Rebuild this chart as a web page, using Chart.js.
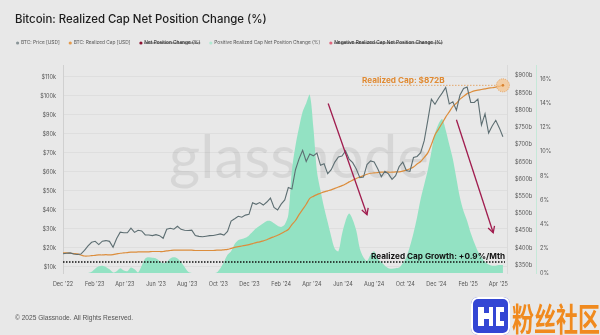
<!DOCTYPE html>
<html lang="en">
<head>
<meta charset="UTF-8">
<title>Bitcoin: Realized Cap Net Position Change (%)</title>
<script src="https://cdn.jsdelivr.net/npm/chart.js"></script>
<style>
    body {
        margin: 0;
        background: #e8e8e8;
    }

    #wrap {
        position: relative;
        width: 600px;
        height: 335px;
        overflow: hidden;
    }

    #chart {
        position: absolute;
        left: 0;
        top: 0;
    }

    .badge-logo {
        position: absolute;
        left: 471px;
        top: 297px;
        width: 39px;
        height: 38px;
        background: #3446d4;
        border-radius: 7px;
        box-shadow: inset 0 0 0 2px #ffffff;
    }

    .badge-logo i {
        position: absolute;
        background: #ffffff;
    }

    .badge-text {
        position: absolute;
        left: 512px;
        top: 293px;
        font: 700 22px "Noto Sans CJK SC", sans-serif;
        color: #f08a1e;
        transform: scale(1, 1.45);
        transform-origin: left top;
        white-space: nowrap;
    }
</style>
</head>
<body>
<div id="wrap">
    <canvas id="chart" width="600" height="335"></canvas>
    <div class="badge-logo">
        <i style="left:7px;top:10px;width:6px;height:19px"></i>
        <i style="left:13px;top:16px;width:5px;height:6px"></i>
        <i style="left:18px;top:10px;width:4px;height:19px"></i>
        <i style="left:25px;top:10px;width:8px;height:5px"></i>
        <i style="left:25px;top:15px;width:4px;height:14px"></i>
        <i style="left:29px;top:24px;width:4px;height:5px"></i>
    </div>
    <span class="badge-text">粉丝社区</span>
</div>

<script>
    // Weekly samples starting 1 Dec 2022 (x = days since then)
    const STEP_DAYS = 7;

    // BTC close, thousands of USD
    const btcPriceK = [
        17.0, 17.2, 17.4, 16.8, 16.6, 16.8, 18.8, 21.1, 23.0, 23.5,
        21.8, 23.6, 23.9, 23.5, 20.4, 25.0, 28.3, 28.0, 28.0, 30.4,
        28.2, 29.3, 29.0, 26.9, 26.8, 26.5, 27.0, 26.5, 25.1, 29.9,
        30.4, 29.9, 31.4, 29.8, 29.3, 29.2, 29.4, 26.6, 26.1, 25.9,
        26.2, 26.5, 26.6, 27.0, 27.4, 26.8, 28.7, 34.2, 35.4, 36.7,
        36.2, 37.3, 37.7, 43.8, 43.0, 43.9, 42.6, 44.2, 46.3, 41.3,
        40.0, 43.1, 45.3, 51.8, 51.0, 61.2, 66.9, 71.4, 65.5, 69.5,
        68.5, 70.0, 63.5, 64.3, 59.1, 61.2, 65.2, 67.9, 68.4, 71.1,
        66.8, 64.9, 61.6, 57.0, 57.3, 63.9, 65.8, 65.3, 61.7, 57.5,
        60.4, 59.0, 56.1, 58.1, 62.9, 65.2, 60.8, 60.3, 67.6, 68.2,
        70.2, 76.5, 87.2, 98.3, 95.6, 98.8, 101.5, 104.5, 95.8, 96.9,
        92.5, 100.5, 104.0, 104.7, 96.6, 96.6, 98.3, 84.7, 90.6, 80.5,
        84.2, 87.2, 83.2, 78.5
    ];

    // Realized cap, billions of USD
    const realizedCapB = [
        386, 386, 385, 384, 383, 380, 377, 377, 378, 379,
        380, 380, 381, 380, 381, 383, 385, 386, 387, 388,
        388, 389, 389, 389, 389, 390, 390, 390, 390, 392,
        393, 394, 394, 394, 394, 394, 394, 393, 393, 393,
        393, 393, 393, 394, 394, 395, 396, 399, 402, 404,
        406, 408, 410, 413, 416, 418, 421, 424, 429, 433,
        437, 442, 448, 454, 468, 480, 497, 512, 527, 544,
        550, 555, 559, 563, 566, 569, 573, 577, 581, 586,
        592, 597, 602, 606, 610, 614, 617, 618, 619, 620,
        620, 620, 620, 621, 621, 623, 626, 630, 635, 644,
        651, 663, 676, 700, 728, 745, 762, 780, 795, 811,
        820, 832, 840, 848, 852, 856, 858, 860, 862, 864,
        865, 867, 869, 872
    ];

    // Realized cap net position change, % (30d)
    const netPositionPct = [
        0, 0, 0, 0, 0, 0, 0, 0, 0.1, 0.35,
        0.55, 0.6, 0.5, 0.3, 0.05, 0.15, 0.4, 0.2, 0.15, 0.45,
        0.3, 0.05, 0.6, 1.2, 1.3, 1.25, 1.2, 1.0, 0.8, 0.9,
        1.2, 1.3, 1.2, 0.9, 0.5, 0.1, 0, 0, 0, 0,
        0, 0, 0, 0.05, 0.4, 0.9, 1.5, 1.8, 2.4, 2.7,
        2.8, 2.9, 3.1, 3.4, 3.7, 3.9, 4.1, 4.3, 4.3, 4.1,
        3.9, 3.8, 4.0, 4.8, 8.5, 10.5, 12.0, 13.3, 14.0, 14.7,
        12.0, 8.4, 6.8, 5.4, 4.2, 3.0, 2.0, 1.8, 3.2, 4.3,
        4.9, 4.4, 3.5, 2.0, 1.3, 1.0, 1.5, 1.8, 1.2, 0.9,
        0.6, 0.4, 0.35, 0.4, 0.45, 0.8, 1.3, 2.2, 3.3, 4.6,
        6.1, 7.3, 8.5, 10.0, 11.5, 12.3, 12.7, 11.8, 10.6, 9.4,
        7.8, 6.2, 5.1, 4.3, 3.3, 2.5, 1.8, 1.3, 0.9, 0.7,
        0.6, 0.6, 0.65, 0.65
    ];

    const tickDays = [0, 62, 121, 182, 243, 304, 365, 427, 487, 548, 609, 670, 731, 793, 852];
    const tickLabels = ["Dec '22", "Feb '23", "Apr '23", "Jun '23", "Aug '23", "Oct '23", "Dec '23",
        "Feb '24", "Apr '24", "Jun '24", "Aug '24", "Oct '24", "Dec '24", "Feb '25", "Apr '25"];
    const priceTicks = [10, 20, 30, 40, 50, 60, 70, 80, 90, 100, 110];
    const capTicks = [350, 400, 450, 500, 550, 600, 650, 700, 750, 800, 850, 900];
    const pctTicks = [0, 2, 4, 6, 8, 10, 12, 14, 16];

    const GROWTH_PER_MONTH = 0.9;

    // trend arrows, in (day, price $k)
    const trendArrows = [
        { from: [519, 96], to: [595, 37.5] },
        { from: [770, 87.5], to: [842, 28] }
    ];

    const toPoints = arr => arr.map((v, i) => ({ x: i * STEP_DAYS, y: v }));
    const negativePct = netPositionPct.map(v => Math.min(v, 0));
    const positivePct = netPositionPct.map(v => Math.max(v, 0));

    const AXIS_FONT = { family: 'Inter, "Liberation Sans", sans-serif', size: 5.5 };

    function drawArrow(ctx, x1, y1, x2, y2) {
        ctx.beginPath();
        ctx.moveTo(x1, y1);
        ctx.lineTo(x2, y2);
        ctx.stroke();
        const a = Math.atan2(y2 - y1, x2 - x1);
        const len = 7;
        ctx.beginPath();
        ctx.moveTo(x2 - len * Math.cos(a - 0.5), y2 - len * Math.sin(a - 0.5));
        ctx.lineTo(x2, y2);
        ctx.lineTo(x2 - len * Math.cos(a + 0.5), y2 - len * Math.sin(a + 0.5));
        ctx.stroke();
    }

    const overlay = {
        id: 'overlay',
        beforeDatasetsDraw(chart) {
            const ctx = chart.ctx;
            ctx.save();
            ctx.font = '400 60px Lato, sans-serif';
            ctx.fillStyle = 'rgba(0, 0, 0, 0.075)';
            ctx.textAlign = 'center';
            ctx.textBaseline = 'alphabetic';
            ctx.fillText('glassnode', 299, 178);
            ctx.restore();
        },
        afterDatasetsDraw(chart) {
            const ctx = chart.ctx;
            const { x, y, yRc, yPct } = chart.scales;
            const area = chart.chartArea;
            ctx.save();

            // monthly growth reference line
            const gy = yPct.getPixelForValue(GROWTH_PER_MONTH);
            ctx.strokeStyle = '#111111';
            ctx.lineWidth = 1.5;
            ctx.setLineDash([1.5, 1.5]);
            ctx.beginPath();
            ctx.moveTo(area.left, gy);
            ctx.lineTo(area.right - 2, gy);
            ctx.stroke();
            ctx.setLineDash([]);
            ctx.font = '700 8.2px Inter, sans-serif';
            ctx.fillStyle = '#111111';
            ctx.textAlign = 'right';
            ctx.fillText('Realized Cap Growth: +' + GROWTH_PER_MONTH + '%/Mth', area.right - 2, gy - 3.5);

            // latest realized cap marker
            const last = realizedCapB.length - 1;
            const cx = x.getPixelForValue(last * STEP_DAYS);
            const cy = yRc.getPixelForValue(realizedCapB[last]);
            ctx.strokeStyle = '#e2964a';
            ctx.lineWidth = 0.8;
            ctx.setLineDash([1.5, 1.5]);
            ctx.beginPath();
            ctx.moveTo(362, cy);
            ctx.lineTo(cx, cy);
            ctx.stroke();
            ctx.beginPath();
            ctx.arc(cx, cy, 6.5, 0, Math.PI * 2);
            ctx.fillStyle = 'rgba(246, 196, 142, 0.75)';
            ctx.fill();
            ctx.setLineDash([1, 1]);
            ctx.stroke();
            ctx.setLineDash([]);
            ctx.beginPath();
            ctx.arc(cx, cy, 1.3, 0, Math.PI * 2);
            ctx.fillStyle = '#d9822e';
            ctx.fill();
            ctx.font = '700 8.2px Inter, sans-serif';
            ctx.fillStyle = '#e08a32';
            ctx.textAlign = 'left';
            ctx.fillText('Realized Cap: $' + realizedCapB[last] + 'B', 362, cy - 2.5);

            // trend arrows
            ctx.strokeStyle = '#a01c4e';
            ctx.lineWidth = 1.3;
            trendArrows.forEach(a => {
                drawArrow(ctx,
                    x.getPixelForValue(a.from[0]), y.getPixelForValue(a.from[1]),
                    x.getPixelForValue(a.to[0]), y.getPixelForValue(a.to[1]));
            });
            ctx.restore();
        },
        afterDraw(chart) {
            const ctx = chart.ctx;
            ctx.save();
            ctx.textAlign = 'left';
            ctx.textBaseline = 'alphabetic';

            ctx.font = '500 11.4px Inter, sans-serif';
            ctx.fillStyle = '#1c1c1c';
            ctx.fillText('Bitcoin: Realized Cap Net Position Change (%)', 15, 23);

            // legend
            ctx.font = '4.8px Inter, sans-serif';
            ctx.textBaseline = 'middle';
            let lx = 16;
            const ly = 43;
            chart.data.datasets.forEach(ds => {
                ctx.beginPath();
                ctx.arc(lx + 1.6, ly, 1.6, 0, Math.PI * 2);
                ctx.fillStyle = ds.legendColor;
                ctx.fill();
                const tx = lx + 5;
                ctx.fillStyle = ds.hidden ? '#1c1c1c' : '#555555';
                ctx.fillText(ds.label, tx, ly);
                const w = ctx.measureText(ds.label).width;
                if (ds.hidden) {
                    ctx.strokeStyle = '#1c1c1c';
                    ctx.lineWidth = 0.6;
                    ctx.beginPath();
                    ctx.moveTo(tx, ly);
                    ctx.lineTo(tx + w, ly);
                    ctx.stroke();
                }
                lx = tx + w + 9;
            });

            ctx.textBaseline = 'alphabetic';
            ctx.font = '6.6px "Liberation Sans", Arial, sans-serif';
            ctx.fillStyle = '#555555';
            ctx.fillText('\u00a9 2025 Glassnode. All Rights Reserved.', 15, 320);
            ctx.restore();
        }
    };

    new Chart(document.getElementById('chart'), {
        type: 'line',
        data: {
            datasets: [
                {
                    label: 'BTC: Price [USD]',
                    data: toPoints(btcPriceK),
                    yAxisID: 'y',
                    borderColor: '#5d6e72',
                    legendColor: '#8a9598',
                    borderWidth: 1.1,
                    pointRadius: 0,
                    tension: 0
                },
                {
                    label: 'BTC: Realized Cap [USD]',
                    data: toPoints(realizedCapB),
                    yAxisID: 'yRc',
                    borderColor: '#dc8d3c',
                    legendColor: '#e59a4c',
                    borderWidth: 1.2,
                    pointRadius: 0,
                    tension: 0.3
                },
                {
                    label: 'Net Position Change (%)',
                    data: toPoints(netPositionPct),
                    yAxisID: 'yPct',
                    borderColor: '#8c1232',
                    legendColor: '#8c1232',
                    borderWidth: 1,
                    pointRadius: 0,
                    hidden: true
                },
                {
                    label: 'Positive Realized Cap Net Position Change (%)',
                    data: toPoints(positivePct),
                    yAxisID: 'yPct',
                    borderColor: '#93e2c3',
                    backgroundColor: '#93e2c3',
                    legendColor: '#b0ead2',
                    borderWidth: 0,
                    pointRadius: 0,
                    fill: 'origin',
                    tension: 0.3
                },
                {
                    label: 'Negative Realized Cap Net Position Change (%)',
                    data: toPoints(negativePct),
                    yAxisID: 'yPct',
                    borderColor: '#e0677e',
                    backgroundColor: '#e0677e',
                    legendColor: '#e0677e',
                    borderWidth: 0,
                    pointRadius: 0,
                    fill: 'origin',
                    hidden: true
                }
            ]
        },
        options: {
            responsive: false,
            animation: false,
            layout: { padding: { top: 65, bottom: 42, left: 0, right: 39 } },
            plugins: {
                legend: { display: false },
                tooltip: { enabled: false }
            },
            scales: {
                x: {
                    type: 'linear',
                    min: 0,
                    max: 869,
                    grid: { display: false, drawTicks: false },
                    border: { display: false },
                    afterBuildTicks: s => { s.ticks = tickDays.map(v => ({ value: v })); },
                    afterFit: s => { s.height = 20; },
                    ticks: {
                        callback: (v, i) => tickLabels[i],
                        font: AXIS_FONT,
                        color: '#555555',
                        padding: 8,
                        maxRotation: 0,
                        autoSkip: false
                    }
                },
                y: {
                    position: 'left',
                    min: 6.84,
                    max: 116.3,
                    grid: { color: 'rgba(0, 0, 0, 0.045)', drawTicks: false },
                    border: { color: '#d0d0d0' },
                    afterBuildTicks: s => { s.ticks = priceTicks.map(v => ({ value: v })); },
                    afterFit: s => { s.width = 63; },
                    ticks: {
                        callback: v => '$' + v + 'k',
                        font: AXIS_FONT,
                        color: '#555555',
                        padding: 7
                    }
                },
                yRc: {
                    position: 'right',
                    min: 327.7,
                    max: 931,
                    grid: { display: false, drawTicks: false },
                    border: { color: '#dadada' },
                    afterBuildTicks: s => { s.ticks = capTicks.map(v => ({ value: v })); },
                    afterFit: s => { s.width = 29; },
                    ticks: {
                        callback: v => '$' + v + 'b',
                        font: AXIS_FONT,
                        color: '#555555',
                        padding: 8
                    }
                },
                yPct: {
                    position: 'right',
                    min: 0,
                    max: 17.16,
                    grid: { display: false, drawTicks: false },
                    border: { color: '#c6e8d8' },
                    afterBuildTicks: s => { s.ticks = pctTicks.map(v => ({ value: v })); },
                    afterFit: s => { s.width = 25; },
                    ticks: {
                        callback: v => v + '%',
                        font: AXIS_FONT,
                        color: '#555555',
                        padding: 4
                    }
                }
            }
        },
        plugins: [overlay]
    });
</script>
</body>
</html>
